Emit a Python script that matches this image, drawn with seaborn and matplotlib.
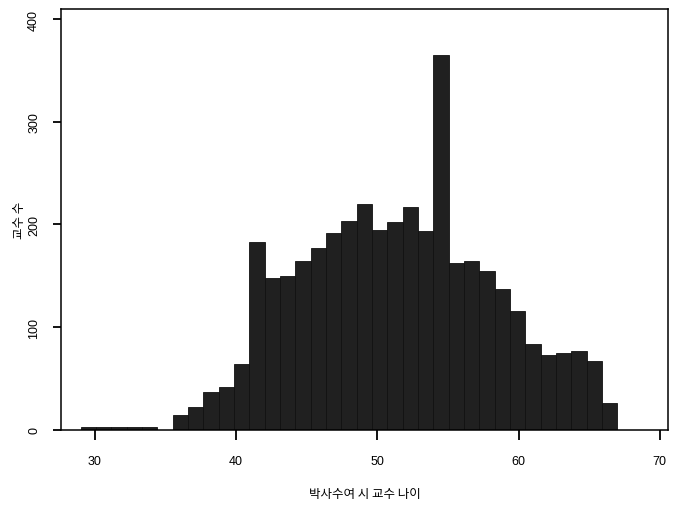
import numpy as np
import pandas as pd
import matplotlib
matplotlib.use("Agg")
import matplotlib.pyplot as plt
import seaborn as sns

# Age at PhD award: 35 equal-width bins spanning 29 to 67 years
bin_start = 29.0
bin_end = 67.0
n_bins = 35
counts = [3, 3, 3, 3, 3, 0, 14, 22, 37, 42,
          64, 183, 148, 150, 164, 177, 192, 203, 220, 195,
          202, 217, 194, 365, 162, 164, 155, 137, 116, 83,
          73, 75, 77, 67, 26]

x_ticks = [30, 40, 50, 60, 70]
y_ticks = [0, 100, 200, 300, 400]
x_label = "박사수여 시 교수 나이"
y_label = "교수 수"

edges = np.linspace(bin_start, bin_end, n_bins + 1)
centers = (edges[:-1] + edges[1:]) / 2
df = pd.DataFrame({"age": centers, "n": counts})

sns.set_style("white")
plt.rcParams["font.family"] = ["Liberation Sans", "Noto Sans CJK KR", "DejaVu Sans"]
plt.rcParams["text.color"] = "black"
plt.rcParams["axes.labelcolor"] = "black"
plt.rcParams["xtick.color"] = "black"
plt.rcParams["ytick.color"] = "black"

fig = plt.figure(figsize=(6.8, 5.06), dpi=100)
ax = fig.add_axes([0.0897, 0.148, 0.8923, 0.832])

sns.histplot(data=df, x="age", weights="n", bins=n_bins,
             binrange=(bin_start, bin_end), ax=ax,
             color="#202020", alpha=1.0, edgecolor="#111111", linewidth=0.6)

ax.set_xlim(27.6, 70.57)
ax.set_ylim(-0.5, 410)
ax.set_xticks(x_ticks)
ax.set_yticks(y_ticks)
ax.set_xticklabels([str(t) for t in x_ticks], fontsize=9)
ax.set_yticklabels([str(t) for t in y_ticks], fontsize=9, rotation=90, va="center")
ax.tick_params(axis="x", direction="out", bottom=True, length=7, width=1.3, pad=11,
               color="black", labelcolor="black")
ax.tick_params(axis="y", direction="out", left=True, length=6, width=1.3, pad=9,
               color="black", labelcolor="black")

for sp in ax.spines.values():
    sp.set_visible(True)
    sp.set_color("black")
    sp.set_linewidth(1.1)

ax.set_xlabel(x_label, fontsize=9, family=["Noto Sans CJK KR", "DejaVu Sans"],
              labelpad=14, color="black")
ax.set_ylabel(y_label, fontsize=9, family=["Noto Sans CJK KR", "DejaVu Sans"],
              color="black")
ax.yaxis.set_label_coords(-0.058, 0.5)

fig.savefig("out.png", dpi=100)
